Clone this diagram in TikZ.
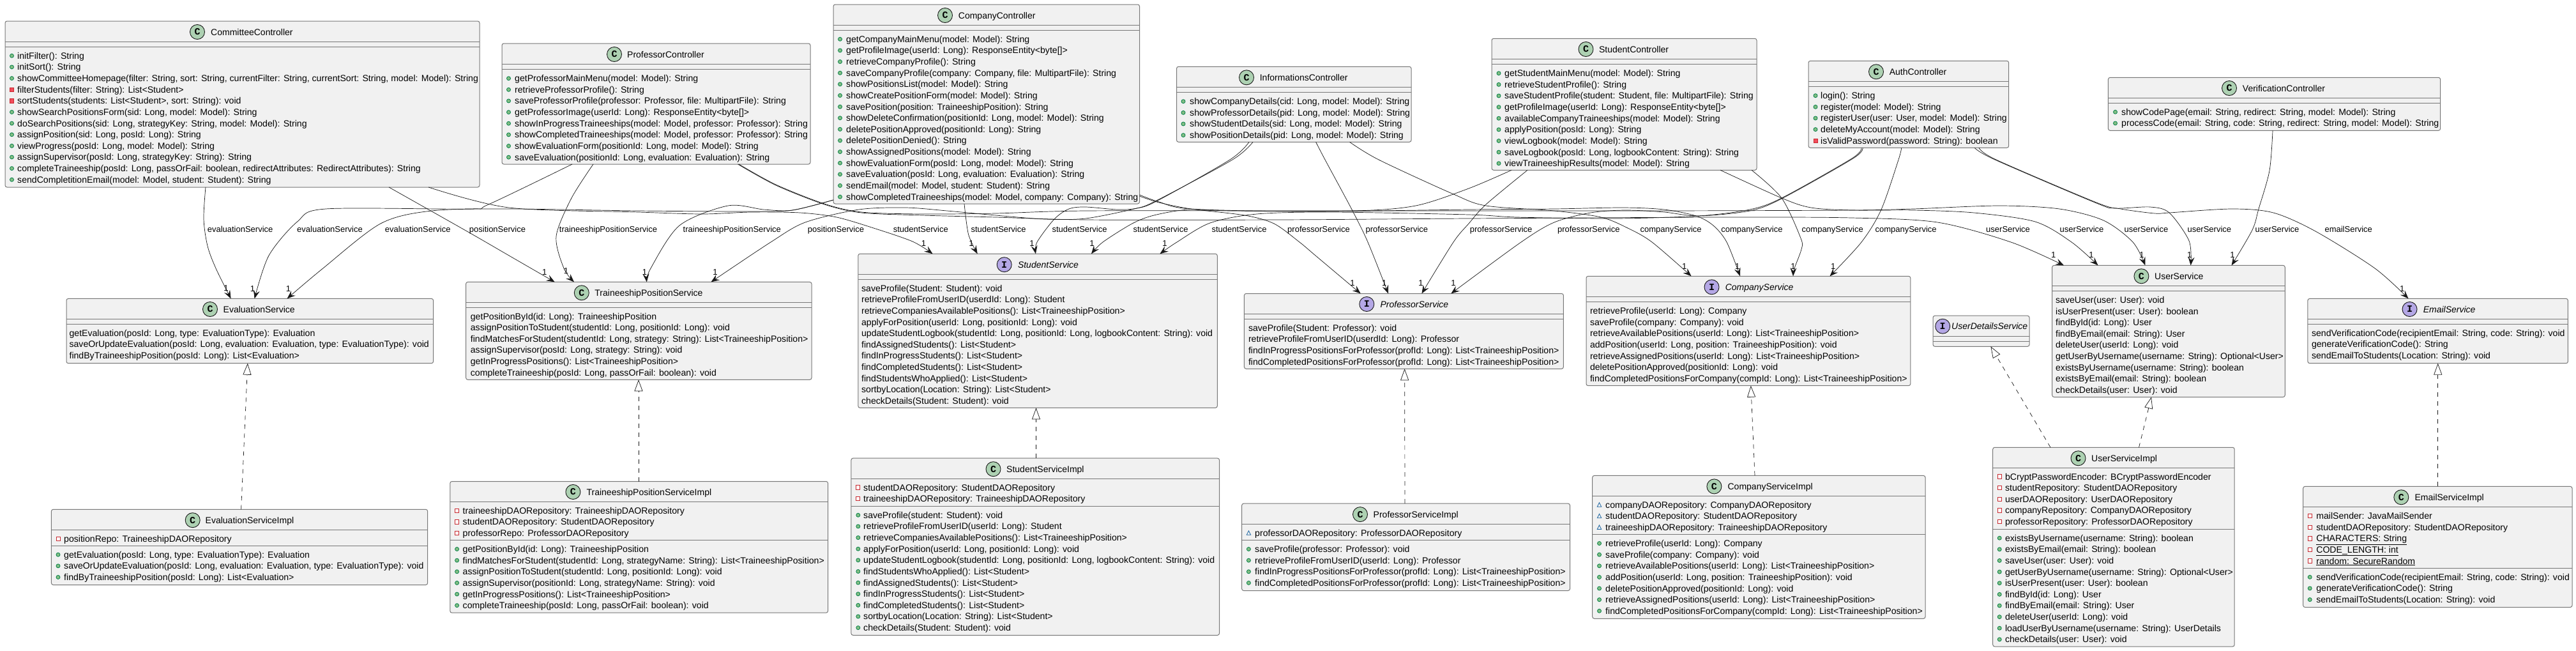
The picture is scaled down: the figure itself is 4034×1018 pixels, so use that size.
\documentclass[tikz,border=0pt]{standalone}
\usepackage{fontspec}
\setmainfont{Liberation Sans}
\newfontfamily\iconfont{Liberation Mono}
\usetikzlibrary{arrows.meta}
\definecolor{boxfill}{HTML}{F1F1F1}
\definecolor{boxline}{HTML}{777777}
\definecolor{inkline}{HTML}{181818}
\definecolor{ciconfill}{HTML}{ADD1B2}
\definecolor{iiconfill}{HTML}{B4A7E5}
\definecolor{pubfill}{HTML}{84BE84}
\definecolor{publine}{HTML}{038048}
\definecolor{prifill}{HTML}{F24D5C}
\definecolor{priline}{HTML}{C82930}
\definecolor{pkgline}{HTML}{1963A0}
\tikzset{
  umlbox/.style={draw=boxline,fill=boxfill,line width=1pt,rounded corners=3pt,inner sep=0pt,outer sep=0pt,anchor=north west},
  sepline/.style={draw=boxline,line width=1pt},
  iconC/.style={circle,draw=inkline,line width=.9pt,fill=ciconfill,minimum size=23pt,inner sep=0pt,font=\iconfont\bfseries\fontsize{15}{15}\selectfont},
  iconI/.style={iconC,fill=iiconfill},
  ctitle/.style={anchor=base west,inner sep=0pt,font=\fontsize{14}{16}\selectfont},
  ititle/.style={ctitle,font=\itshape\fontsize{14}{16}\selectfont},
  memtxt/.style={anchor=base west,inner sep=0pt,font=\fontsize{14.1}{16}\selectfont},
  elabel/.style={anchor=base west,inner sep=0pt,font=\fontsize{13}{15}\selectfont},
  mult/.style={anchor=base,inner sep=0pt,font=\fontsize{13}{15}\selectfont},
  dep/.style={draw=inkline,line width=.7pt,-{Stealth[length=13pt,width=10pt,inset=5pt]}},
  impl/.style={draw=inkline,line width=.7pt,dash pattern=on 7pt off 7pt,-{Triangle[length=18pt,width=13pt,fill=white]}},
}
\newcount\memidx
\newcommand{\classbox}[7]{%
  \node[umlbox,minimum width={(#4-#2)*1pt},minimum height={(#5-#3)*1pt}] (#1) at (#2,#3) {};
  \draw[sepline] (#1.west |- 0,#6) -- (#1.east |- 0,#6);
  \draw[sepline] (#1.west |- 0,#7) -- (#1.east |- 0,#7);}
\newcommand{\headC}[5]{\node[iconC] (#1i) at (#2,#3) {C};\node[ctitle] (#1t) at (#4,#3+5) {#5};}
\newcommand{\headI}[5]{\node[iconI] (#1i) at (#2,#3) {I};\node[ititle] (#1t) at (#4,#3+5) {#5};}
\newcommand{\setm}[3]{\def\mx{#1}\def\tx{#2}\pgfmathsetmacro\curY{#3}}
\newcommand{\memtext}[1]{\global\advance\memidx by 1\relax\node[memtxt] (m\the\memidx) at (\tx,\curY+5) {#1};\pgfmathsetmacro\curY{\curY+17.63}}
\newcommand{\pub}[1]{\draw[draw=publine,fill=pubfill,line width=.8pt] (\mx,\curY) circle (3pt);\memtext{#1}}
\newcommand{\mpri}[1]{\draw[draw=priline,fill=prifill,line width=.8pt] (\mx-3,\curY-3.2) rectangle +(6,6.4);\memtext{#1}}
\newcommand{\pri}[1]{\draw[draw=priline,fill=white,line width=.8pt] (\mx-3,\curY-3.2) rectangle +(6,6.4);\memtext{#1}}
\newcommand{\pkg}[1]{\draw[draw=pkgline,line width=.8pt] (\mx-3.2,\curY+3) -- (\mx+3.2,\curY+3) -- (\mx,\curY-3.5) -- cycle;\memtext{#1}}
\newcommand{\pln}[1]{\memtext{#1}}
\newcommand{\elab}[2]{\global\advance\memidx by 1\relax\node[elabel] (m\the\memidx) at (#1,363.2) {#2};}
\newcommand{\onelab}[2]{\global\advance\memidx by 1\relax\node[mult] (m\the\memidx) at (#1,#2+4.5) {1};}
\newcommand{\dedge}[1]{\draw[dep] plot[smooth,tension=.5] coordinates {#1};}
\begin{document}
\begin{tikzpicture}[x=1pt,y=-1pt]
\path[fill=white,use as bounding box] (0,0) rectangle (4034,1018);

% --- controllers
\classbox{cc}{8}{33}{751}{293}{65}{73}
\headC{cc}{309}{50}{330}{CommitteeController}
\setm{18.5}{27}{87.3}
\pub{initFilter(): String}
\pub{initSort(): String}
\pub{showCommitteeHomepage(filter: String, sort: String, currentFilter: String, currentSort: String, model: Model): String}
\mpri{filterStudents(filter: String): List<Student>}
\mpri{sortStudents(students: List<Student>, sort: String): void}
\pub{showSearchPositionsForm(sid: Long, model: Model): String}
\pub{doSearchPositions(sid: Long, strategyKey: String, model: Model): String}
\pub{assignPosition(sid: Long, posId: Long): String}
\pub{viewProgress(posId: Long, model: Model): String}
\pub{assignSupervisor(posId: Long, strategyKey: String): String}
\pub{completeTraineeship(posId: Long, passOrFail: boolean, redirectAttributes: RedirectAttributes): String}
\pub{sendCompletitionEmail(model: Model, student: Student): String}

\classbox{pc}{786}{68}{1269}{257}{100}{108}
\headC{pc}{962}{85}{982}{ProfessorController}
\setm{796.5}{806}{122.7}
\pub{getProfessorMainMenu(model: Model): String}
\pub{retrieveProfessorProfile(): String}
\pub{saveProfessorProfile(professor: Professor, file: MultipartFile): String}
\pub{getProfessorImage(userId: Long): ResponseEntity<byte[]>}
\pub{showInProgressTraineeships(model: Model, professor: Professor): String}
\pub{showCompletedTraineeships(model: Model, professor: Professor): String}
\pub{showEvaluationForm(positionId: Long, model: Model): String}
\pub{saveEvaluation(positionId: Long, evaluation: Evaluation): String}

\classbox{oc}{1305}{7}{1784.5}{319}{39}{47}
\headC{oc}{1480}{24}{1500.7}{CompanyController}
\setm{1315.5}{1325}{61.3}
\pub{getCompanyMainMenu(model: Model): String}
\pub{getProfileImage(userId: Long): ResponseEntity<byte[]>}
\pub{retrieveCompanyProfile(): String}
\pub{saveCompanyProfile(company: Company, file: MultipartFile): String}
\pub{showPositionsList(model: Model): String}
\pub{showCreatePositionForm(model: Model): String}
\pub{savePosition(position: TraineeshipPosition): String}
\pub{showDeleteConfirmation(positionId: Long, model: Model): String}
\pub{deletePositionApproved(positionId: Long): String}
\pub{deletePositionDenied(): String}
\pub{showAssignedPositions(model: Model): String}
\pub{showEvaluationForm(posId: Long, model: Model): String}
\pub{saveEvaluation(posId: Long, evaluation: Evaluation): String}
\pub{sendEmail(model: Model, student: Student): String}
\pub{showCompletedTraineeships(model: Model, company: Company): String}

\classbox{ic}{1842.5}{104.3}{2210}{222.3}{136.3}{144.3}
\headC{ic}{1952}{121.3}{1972.6}{InformationsController}
\setm{1853}{1863}{158.7}
\pub{showCompanyDetails(cid: Long, model: Model): String}
\pub{showProfessorDetails(pid: Long, model: Model): String}
\pub{showStudentDetails(sid: Long, model: Model): String}
\pub{showPositionDetails(pid: Long, model: Model): String}

\classbox{sc}{2336}{60.3}{2751}{266.3}{92.3}{100.3}
\headC{sc}{2483.5}{77}{2503.9}{StudentController}
\setm{2347}{2356}{114.7}
\pub{getStudentMainMenu(model: Model): String}
\pub{retrieveStudentProfile(): String}
\pub{saveStudentProfile(student: Student, file: MultipartFile): String}
\pub{getProfileImage(userId: Long): ResponseEntity<byte[]>}
\pub{availableCompanyTraineeships(model: Model): String}
\pub{applyPosition(posId: Long): String}
\pub{viewLogbook(model: Model): String}
\pub{saveLogbook(posId: Long, logbookContent: String): String}
\pub{viewTraineeshipResults(model: Model): String}

\classbox{ac}{2832}{95.3}{3145.7}{231.3}{127.3}{135.3}
\headC{ac}{2938}{112.3}{2958.6}{AuthController}
\setm{2843}{2851}{149.7}
\pub{login(): String}
\pub{register(model: Model): String}
\pub{registerUser(user: User, model: Model): String}
\pub{deleteMyAccount(model: Model): String}
\mpri{isValidPassword(password: String): boolean}

\classbox{vc}{3301.4}{121.3}{3821.6}{204.3}{153.3}{161.3}
\headC{vc}{3491}{138}{3511.7}{VerificationController}
\setm{3312.5}{3322}{175.3}
\pub{showCodePage(email: String, redirect: String, model: Model): String}
\pub{processCode(email: String, code: String, redirect: String, model: Model): String}

% --- services
\classbox{es}{104}{467.4}{678.6}{568.7}{499.3}{507.2}
\headC{es}{329}{484}{349.5}{EvaluationService}
\setm{0}{108.4}{521}
\pln{getEvaluation(posId: Long, type: EvaluationType): Evaluation}
\pln{saveOrUpdateEvaluation(posId: Long, evaluation: Evaluation, type: EvaluationType): void}
\pln{findByTraineeshipPosition(posId: Long): List<Evaluation>}

\classbox{esi}{80.4}{797.3}{669.7}{915.5}{829.2}{854.4}
\headC{esi}{301.7}{814.2}{321.5}{EvaluationServiceImpl}
\setm{91}{100}{843.4}
\pri{positionRepo: TraineeshipDAORepository}
\setm{91}{100}{868.2}
\pub{getEvaluation(posId: Long, type: EvaluationType): Evaluation}
\pub{saveOrUpdateEvaluation(posId: Long, evaluation: Evaluation, type: EvaluationType): void}
\pub{findByTraineeshipPosition(posId: Long): List<Evaluation>}

\classbox{tps}{729.6}{441.4}{1271}{594.3}{473.3}{481.6}
\headC{tps}{910.8}{458.3}{931.2}{TraineeshipPositionService}
\setm{0}{736.7}{495}
\pln{getPositionById(id: Long): TraineeshipPosition}
\pln{assignPositionToStudent(studentId: Long, positionId: Long): void}
\pln{findMatchesForStudent(studentId: Long, strategy: String): List<TraineeshipPosition>}
\pln{assignSupervisor(posId: Long, strategy: String): void}
\pln{getInProgressPositions(): List<TraineeshipPosition>}
\pln{completeTraineeship(posId: Long, passOrFail: boolean): void}

\classbox{tpi}{704.8}{753.5}{1296.6}{959.2}{785.4}{845.7}
\headC{tpi}{897.4}{770}{918.4}{TraineeshipPositionServiceImpl}
\setm{715.6}{724.5}{799.2}
\pri{traineeshipDAORepository: TraineeshipDAORepository}
\pri{studentDAORepository: StudentDAORepository}
\pri{professorRepo: ProfessorDAORepository}
\setm{715.6}{724.5}{859.5}
\pub{getPositionById(id: Long): TraineeshipPosition}
\pub{findMatchesForStudent(studentId: Long, strategyName: String): List<TraineeshipPosition>}
\pub{assignPositionToStudent(studentId: Long, positionId: Long): void}
\pub{assignSupervisor(positionId: Long, strategyName: String): void}
\pub{getInProgressPositions(): List<TraineeshipPosition>}
\pub{completeTraineeship(posId: Long, passOrFail: boolean): void}

\classbox{ss}{1343.8}{397.3}{1906.3}{638.4}{429.6}{437.4}
\headI{ss}{1572.7}{414.2}{1593.8}{StudentService}
\setm{0}{1348.9}{451.2}
\pln{saveProfile(Student: Student): void}
\pln{retrieveProfileFromUserID(userdId: Long): Student}
\pln{retrieveCompaniesAvailablePositions(): List<TraineeshipPosition>}
\pln{applyForPosition(userId: Long, positionId: Long): void}
\pln{updateStudentLogbook(studentId: Long, positionId: Long, logbookContent: String): void}
\pln{findAssignedStudents(): List<Student>}
\pln{findInProgressStudents(): List<Student>}
\pln{findCompletedStudents(): List<Student>}
\pln{findStudentsWhoApplied(): List<Student>}
\pln{sortbyLocation(Location: String): List<Student>}
\pln{checkDetails(Student: Student): void}

\classbox{ssi}{1332.9}{717.2}{1909.5}{994.3}{749.2}{792.5}
\headC{ssi}{1555.5}{734.2}{1576}{StudentServiceImpl}
\setm{1343.8}{1352}{763}
\pri{studentDAORepository: StudentDAORepository}
\pri{traineeshipDAORepository: TraineeshipDAORepository}
\setm{1343.8}{1352}{806.3}
\pub{saveProfile(student: Student): void}
\pub{retrieveProfileFromUserID(userId: Long): Student}
\pub{retrieveCompaniesAvailablePositions(): List<TraineeshipPosition>}
\pub{applyForPosition(userId: Long, positionId: Long): void}
\pub{updateStudentLogbook(studentId: Long, positionId: Long, logbookContent: String): void}
\pub{findStudentsWhoApplied(): List<Student>}
\pub{findAssignedStudents(): List<Student>}
\pub{findInProgressStudents(): List<Student>}
\pub{findCompletedStudents(): List<Student>}
\pub{sortbyLocation(Location: String): List<Student>}
\pub{checkDetails(Student: Student): void}

\classbox{ps}{1948.4}{459.5}{2448.4}{577.3}{491.4}{499.3}
\headI{ps}{2140.3}{476}{2161.4}{ProfessorService}
\setm{0}{1954.8}{513.1}
\pln{saveProfile(Student: Professor): void}
\pln{retrieveProfileFromUserID(userdId: Long): Professor}
\pln{findInProgressPositionsForProfessor(profId: Long): List<TraineeshipPosition>}
\pln{findCompletedPositionsForProfessor(profId: Long): List<TraineeshipPosition>}

\classbox{psi}{1944.6}{788.2}{2458.6}{924.5}{820.5}{845.7}
\headC{psi}{2130}{805.1}{2150.5}{ProfessorServiceImpl}
\setm{1955.4}{1965}{834.3}
\pkg{professorDAORepository: ProfessorDAORepository}
\setm{1955.4}{1965}{859.5}
\pub{saveProfile(professor: Professor): void}
\pub{retrieveProfileFromUserID(userId: Long): Professor}
\pub{findInProgressPositionsForProfessor(profId: Long): List<TraineeshipPosition>}
\pub{findCompletedPositionsForProfessor(profId: Long): List<TraineeshipPosition>}

\classbox{os}{2484}{432.3}{2991.8}{603.7}{464.2}{472.5}
\headI{os}{2680.5}{449.3}{2701.6}{CompanyService}
\setm{0}{2489.8}{486.7}
\pln{retrieveProfile(userId: Long): Company}
\pln{saveProfile(company: Company): void}
\pln{retrieveAvailablePositions(userId: Long): List<TraineeshipPosition>}
\pln{addPosition(userId: Long, position: TraineeshipPosition): void}
\pln{retrieveAssignedPositions(userId: Long): List<TraineeshipPosition>}
\pln{deletePositionApproved(positionId: Long): void}
\pln{findCompletedPositionsForCompany(compId: Long): List<TraineeshipPosition>}

\classbox{osi}{2493.7}{744.4}{3015}{968.3}{776.4}{836.3}
\headC{osi}{2684.4}{761.4}{2705.4}{CompanyServiceImpl}
\setm{2504.5}{2514}{790.2}
\pkg{companyDAORepository: CompanyDAORepository}
\pkg{studentDAORepository: StudentDAORepository}
\pkg{traineeshipDAORepository: TraineeshipDAORepository}
\setm{2504.5}{2514}{850.5}
\pub{retrieveProfile(userId: Long): Company}
\pub{saveProfile(company: Company): void}
\pub{retrieveAvailablePositions(userId: Long): List<TraineeshipPosition>}
\pub{addPosition(userId: Long, position: TraineeshipPosition): void}
\pub{deletePositionApproved(positionId: Long): void}
\pub{retrieveAssignedPositions(userId: Long): List<TraineeshipPosition>}
\pub{findCompletedPositionsForCompany(compId: Long): List<TraineeshipPosition>}

\classbox{us}{3213.6}{415.4}{3578.3}{621.5}{447.3}{455.6}
\headC{us}{3353.4}{432.3}{3373.9}{UserService}
\setm{0}{3218.9}{469.4}
\pln{saveUser(user: User): void}
\pln{isUserPresent(user: User): boolean}
\pln{findById(id: Long): User}
\pln{findByEmail(email: String): User}
\pln{deleteUser(userId: Long): void}
\pln{getUserByUsername(username: String): Optional<User>}
\pln{existsByUsername(username: String): boolean}
\pln{existsByEmail(email: String): boolean}
\pln{checkDetails(user: User): void}

\classbox{usi}{3120.7}{700.3}{3499.2}{1012}{732.2}{828.4}
\headC{usi}{3254.5}{717.3}{3275}{UserServiceImpl}
\setm{3131.2}{3139.8}{746}
\pri{bCryptPasswordEncoder: BCryptPasswordEncoder}
\pri{studentRepository: StudentDAORepository}
\pri{userDAORepository: UserDAORepository}
\pri{companyRepository: CompanyDAORepository}
\pri{professorRepository: ProfessorDAORepository}
\setm{3131.2}{3139.8}{842.2}
\pub{existsByUsername(username: String): boolean}
\pub{existsByEmail(email: String): boolean}
\pub{saveUser(user: User): void}
\pub{getUserByUsername(username: String): Optional<User>}
\pub{isUserPresent(user: User): boolean}
\pub{findById(id: Long): User}
\pub{findByEmail(email: String): User}
\pub{deleteUser(userId: Long): void}
\pub{loadUserByUsername(username: String): UserDetails}
\pub{checkDetails(user: User): void}

\classbox{uds}{3027}{494.2}{3178}{542.3}{526.5}{534.8}
\headI{uds}{3042.2}{510.7}{3056}{UserDetailsService}

\classbox{ms}{3613.9}{467.4}{4021.4}{568.7}{499.3}{507.2}
\headI{ms}{3773.5}{484}{3794.6}{EmailService}
\setm{0}{3619.8}{521}
\pln{sendVerificationCode(recipientEmail: String, code: String): void}
\pln{generateVerificationCode(): String}
\pln{sendEmailToStudents(Location: String): void}

\classbox{msi}{3606.6}{761.4}{4028}{950.5}{793.3}{889.5}
\headC{msi}{3760.3}{778.3}{3781.4}{EmailServiceImpl}
\setm{3617.2}{3627.1}{807.5}
\pri{mailSender: JavaMailSender}
\pri{studentDAORepository: StudentDAORepository}
\pri{\underline{CHARACTERS: String}}
\pri{\underline{CODE\_LENGTH: int}}
\pri{\underline{random: SecureRandom}}
\setm{3617.2}{3627.1}{903.3}
\pub{sendVerificationCode(recipientEmail: String, code: String): void}
\pub{generateVerificationCode(): String}
\pub{sendEmailToStudents(Location: String): void}

% --- realisations
\draw[impl] (377.6,0 |- esi.north) -- (387.8,0 |- es.south);
\draw[impl] (1000,0 |- tpi.north) -- (1000,0 |- tps.south);
\draw[impl] (1622.5,0 |- ssi.north) -- (1622.5,0 |- ss.south);
\draw[impl] (2200,0 |- psi.north) -- (2199.6,0 |- ps.south);
\draw[impl] (2748,0 |- osi.north) -- (2741.8,0 |- os.south);
\draw[impl] (3349.5,0 |- usi.north) -- (3369,0 |- us.south);
\draw[impl] (3211,0 |- usi.north) -- (3117.4,0 |- uds.south);
\draw[impl] (3817.7,0 |- msi.north) -- (3817.7,0 |- ms.south);

% --- dependencies
\dedge{(322,0 |- cc.south) (319,343) (325,385) (338,420) (361.6,0 |- es.north)}
\dedge{(896,0 |- pc.south) (765,320) (733,327) (510,327) (465.6,347) (421,400) (398.6,0 |- es.north)}
\dedge{(oc.west |- 0,313) (1241,329) (1176,331) (1000,330) (797,327) (676,330) (596,350) (505.8,420) (449.6,0 |- es.north)}
\dedge{(609,0 |- cc.south) (733,363) (797,400) (868.7,0 |- tps.north)}
\dedge{(929,0 |- pc.south) (895,310) (871,370) (883,420) (899,0 |- tps.north)}
\dedge{(oc.west |- 0,313) (1241,329) (1196,328) (1140,322) (1064,353) (1019,420) (1012.8,0 |- tps.north)}
\dedge{(1956,0 |- ic.south) (1926,250) (1811,315) (1776,327) (1700,342) (1636,343) (1559,337) (1483,330) (1418,325) (1345,328) (1261,348) (1207,379) (1113.5,0 |- tps.north)}
\dedge{(671,0 |- cc.south) (797,325) (1000,332) (1100,335) (1176,332) (1253,333) (1310,340) (1368,357) (1429,378) (1460.5,0 |- ss.north)}
\dedge{(1510,0 |- oc.south) (1516.6,367) (1530.7,0 |- ss.north)}
\dedge{(1962,0 |- ic.south) (1930,250) (1811,314) (1780,326) (1750,328) (1700,324) (1674,327) (1651,343) (1624,379) (1621.9,0 |- ss.north)}
\dedge{(2367,0 |- sc.south) (2300,295) (2217,322) (2121,330) (1930,330) (1861,328) (1807,337) (1773,350) (1727,379) (1709,0 |- ss.north)}
\dedge{(2915,0 |- ac.south) (2900,248) (2790,310) (2740,328) (2660,338) (2530,342) (2376,340) (2300,336) (2083,332) (1968,335) (1895,349) (1843,379) (1816.4,0 |- ss.north)}
\dedge{(oc.east |- 0,307) (1815,317) (1865,327) (1949,337) (1995,350) (2035,379) (2060,400) (2130.7,0 |- ps.north)}
\dedge{(2060.6,0 |- ic.south) (2075,250) (2117,328) (2142,379) (2174,0 |- ps.north)}
\dedge{(2392,0 |- sc.south) (2327,320) (2300,350) (2276,379) (2226.4,0 |- ps.north)}
\dedge{(2917,0 |- ac.south) (2902,248) (2790,311) (2740,330) (2660,338) (2606,332) (2545,329) (2491,333) (2434,348) (2382,379) (2272.3,0 |- ps.north)}
\dedge{(2113.5,0 |- ic.south) (2159,250) (2274,303) (2327,322) (2434,330) (2507,340) (2549,357) (2587,379) (2648.6,0 |- os.north)}
\dedge{(oc.east |- 0,305) (1815,316) (1864,327) (2044,331) (2300,328) (2434,327) (2541,325) (2606,328) (2656,338) (2683,353) (2704,379) (2725,0 |- os.north)}
\dedge{(2743,0 |- sc.south) (2790,310) (2820,373) (2821,390) (2810,420) (2808,0 |- os.north)}
\dedge{(2977.7,0 |- ac.south) (2973,250) (2946,328) (2915,379) (2865.5,0 |- os.north)}
\dedge{(1155.5,0 |- pc.south) (1215,290) (1291,320) (1349,333) (1444,337) (1559,340) (1700,344) (2000,344) (2300,342) (2700,340) (2900,341) (3034,348) (3149,379) (3232,0 |- us.north)}
\dedge{(2694,0 |- sc.south) (2790,310) (2836,325) (2900,329) (2996,329) (3091,333) (3187,347) (3244,379) (3285.5,0 |- us.north)}
\dedge{(1157,0 |- pc.south) (1215,289) (1291,319) (1349,332) (1444,335) (1559,334) (1700,330) (2044,330) (2300,330) (2600,330) (2900,329) (2996,327) (3130,322) (3225,327) (3294,345) (3340,379) (3359.4,0 |- us.north)}
\dedge{(3092,0 |- ac.south) (3124,250) (3283,318) (3313,326) (3367,324) (3397,333) (3428,377) (3430.6,0 |- us.north)}
\dedge{(3559,0 |- vc.south) (3554,267) (3537,327) (3527,360) (3494.6,0 |- us.north)}
\dedge{(3099,0 |- ac.south) (3126,250) (3283,317) (3321,327) (3374,334) (3397,333) (3495,327) (3560,333) (3626,362) (3719,420) (3771.5,0 |- ms.north)}

% --- edge labels
\elab{324.6}{evaluationService}
\elab{465}{evaluationService}
\elab{602.7}{evaluationService}
\elab{734.7}{positionService}
\elab{875.7}{traineeshipPositionService}
\elab{1069.5}{traineeshipPositionService}
\elab{1264.7}{positionService}
\elab{1398.6}{studentService}
\elab{1520.4}{studentService}
\elab{1647.4}{studentService}
\elab{1774.3}{studentService}
\elab{1897.3}{studentService}
\elab{2016}{professorService}
\elab{2138.4}{professorService}
\elab{2301.7}{professorService}
\elab{2438.8}{professorService}
\elab{2568.3}{companyService}
\elab{2695.2}{companyService}
\elab{2821.5}{companyService}
\elab{2936.3}{companyService}
\elab{3110}{userService}
\elab{3225.5}{userService}
\elab{3326.4}{userService}
\elab{3425.3}{userService}
\elab{3531.5}{userService}
\elab{3640.3}{emailService}

% --- multiplicities
\onelab{354}{451}\onelab{395.4}{452.4}\onelab{451.6}{452.4}
\onelab{852.7}{425.6}\onelab{886.5}{423.6}\onelab{1009.6}{425.6}\onelab{1120}{425.6}
\onelab{1446.5}{381}\onelab{1521}{381}\onelab{1616}{381}\onelab{1710}{381}\onelab{1824}{381}
\onelab{2118}{443.4}\onelab{2167.7}{443.4}\onelab{2225}{443.4}\onelab{2276}{443.4}
\onelab{2637.8}{417}\onelab{2720.7}{417}\onelab{2808}{417}\onelab{2870.6}{417}
\onelab{3215.6}{399}\onelab{3275}{399}\onelab{3354}{399}\onelab{3428.6}{399}\onelab{3496}{399}
\onelab{3761.6}{452}
\end{tikzpicture}
\end{document}
